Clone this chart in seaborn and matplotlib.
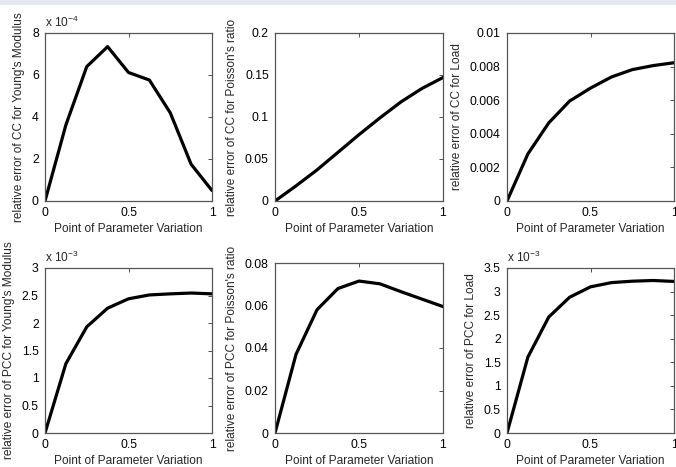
import numpy as np
import pandas as pd
import matplotlib
matplotlib.use("Agg")
import matplotlib.pyplot as plt
from matplotlib.ticker import FuncFormatter
import seaborn as sns

# parameter variation points (0 .. 1, step 1/8)
x_points = [0, 0.125, 0.25, 0.375, 0.5, 0.625, 0.75, 0.875, 1.0]

# relative error of CC
cc_young = [0, 3.62e-4, 6.4e-4, 7.35e-4, 6.12e-4, 5.76e-4, 4.2e-4, 1.75e-4, 0.5e-4]
cc_poisson = [0, 0.018, 0.037, 0.058, 0.079, 0.099, 0.118, 0.134, 0.147]
cc_load = [0, 0.0028, 0.00465, 0.00595, 0.00672, 0.00738, 0.00782, 0.00806, 0.00823]

# relative error of PCC
pcc_young = [0, 1.26e-3, 1.93e-3, 2.27e-3, 2.44e-3, 2.51e-3, 2.53e-3, 2.545e-3, 2.53e-3]
pcc_poisson = [0, 0.037, 0.058, 0.068, 0.0715, 0.0702, 0.0665, 0.063, 0.0595]
pcc_load = [0, 1.61e-3, 2.46e-3, 2.88e-3, 3.1e-3, 3.19e-3, 3.22e-3, 3.235e-3, 3.215e-3]

panels = [
    # values, ylabel, scale exponent, ylim, ytick step
    (cc_young, "relative error of CC for Young's Modulus", -4, 8, 2),
    (cc_poisson, "relative error of CC for Poisson's ratio", 0, 0.2, 0.05),
    (cc_load, "relative error of CC for Load", 0, 0.01, 0.002),
    (pcc_young, "relative error of PCC for Young's Modulus", -3, 3, 0.5),
    (pcc_poisson, "relative error of PCC for Poisson's ratio", 0, 0.08, 0.02),
    (pcc_load, "relative error of PCC for Load", -3, 3.5, 0.5),
]

sns.set_style("white")
plt.rcParams["font.family"] = ["Liberation Sans", "DejaVu Sans"]
plt.rcParams["mathtext.fontset"] = "custom"
plt.rcParams["mathtext.rm"] = "Liberation Sans"
plt.rcParams["mathtext.it"] = "Liberation Sans"

W, H = 676, 467
fig = plt.figure(figsize=(W / 100, H / 100), dpi=100)
fig.patch.set_facecolor("white")
# light band at the top edge
fig.patches.append(plt.Rectangle((0, 1 - 5 / H), 1, 5 / H, transform=fig.transFigure,
                                 facecolor="#e8e8f3", edgecolor="none", zorder=0))

def px_box(left, right, top, bottom):
    return [left / W, 1 - bottom / H, (right - left) / W, (bottom - top) / H]

boxes = [
    px_box(45, 212, 33, 201),
    px_box(275, 443, 33, 201),
    px_box(507, 674, 33, 201),
    px_box(45, 212, 268, 433),
    px_box(275, 443, 263, 433),
    px_box(507, 674, 268, 433),
]

fmt = FuncFormatter(lambda v, p: "%g" % round(v, 6))

for (vals, ylab, expo, ymax, step), box in zip(panels, boxes):
    ax = fig.add_axes(box)
    scale = 10.0 ** (-expo)
    df = pd.DataFrame({"x": x_points, "y": np.array(vals) * scale})
    sns.lineplot(data=df, x="x", y="y", ax=ax, color="black", linewidth=2.3)
    ax.set_xlim(0, 1)
    ax.set_ylim(0, ymax)
    ax.set_xticks([0, 0.5, 1])
    ax.set_yticks(np.arange(0, ymax + step / 2, step))
    ax.xaxis.set_major_formatter(fmt)
    ax.yaxis.set_major_formatter(fmt)
    ax.tick_params(direction="in", length=3, width=0.6, top=True, right=True,
                   labelsize=8.8, colors="#333333", labelcolor="black", pad=4.5)
    for s in ax.spines.values():
        s.set_color("#555555")
        s.set_linewidth(0.9)
    ax.set_xlabel("Point of Parameter Variation", fontsize=8.6, labelpad=3)
    ax.set_ylabel(ylab, fontsize=8.6, labelpad=5)
    if expo != 0:
        ax.text(0.0, 1.02, r"x 10$^{%d}$" % expo, transform=ax.transAxes,
                fontsize=8.6, ha="left", va="bottom")

fig.savefig("out.png", dpi=100, facecolor=fig.get_facecolor())
